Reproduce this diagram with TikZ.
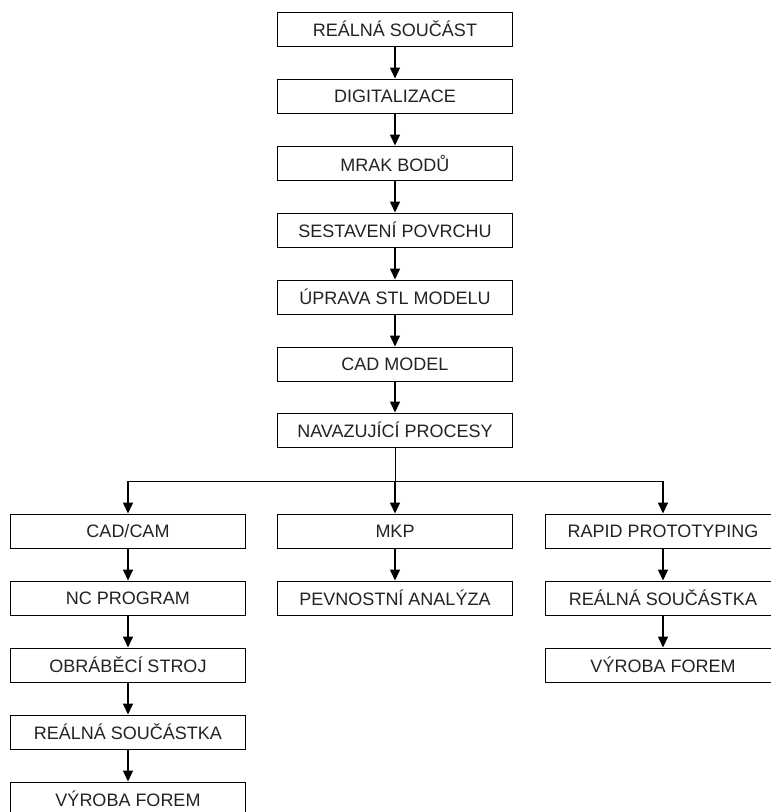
\documentclass[tikz,border=0pt]{standalone}
\usepackage{fontspec}
\setmainfont{Liberation Sans}
\usepackage{xcolor}
\usepackage{tikz}
\usetikzlibrary{arrows.meta, calc}

\definecolor{textgray}{HTML}{222222}

\tikzset{
  box/.style={draw, line width=1pt, minimum width=235pt, minimum height=34pt,
    inner sep=0pt, text=textgray, font=\fontsize{18}{20}\selectfont},
  flow/.style={line width=1.6pt, -{Triangle[length=11pt,width=10pt]}},
}

\begin{document}
\begin{tikzpicture}[x=1pt, y=-1pt]
\useasboundingbox (0,0) rectangle (771,812);

% Main chain
\node[box] (real)  at (395,29)  {REÁLNÁ SOUČÁST};
\node[box] (digi)  at (395,96)  {DIGITALIZACE};
\node[box] (mrak)  at (395,163) {MRAK BODŮ};
\node[box] (sest)  at (395,230) {SESTAVENÍ POVRCHU};
\node[box] (stl)   at (395,297) {ÚPRAVA STL MODELU};
\node[box] (cad)   at (395,364) {CAD MODEL};
\node[box] (nav)   at (395,430) {NAVAZUJÍCÍ PROCESY};

\draw[flow] (real) -- (digi);
\draw[flow] (digi) -- (mrak);
\draw[flow] (mrak) -- (sest);
\draw[flow] (sest) -- (stl);
\draw[flow] (stl) -- (cad);
\draw[flow] (cad) -- (nav);

% Branches
\node[box] (cam)   at (128,531) {CAD/CAM};
\node[box] (nc)    at (128,598) {NC PROGRAM};
\node[box] (obr)   at (128,665) {OBRÁBĚCÍ STROJ};
\node[box] (sou1)  at (128,732) {REÁLNÁ SOUČÁSTKA};
\node[box] (form1) at (128,799) {VÝROBA FOREM};

\node[box] (mkp)   at (395,531) {MKP};
\node[box] (pev)   at (395,598) {PEVNOSTNÍ ANALÝZA};

\node[box] (rp)    at (663,531) {RAPID PROTOTYPING};
\node[box] (sou2)  at (663,598) {REÁLNÁ SOUČÁSTKA};
\node[box] (form2) at (663,665) {VÝROBA FOREM};

\coordinate (split) at (395,481);
\coordinate (splitL) at (128,481);
\coordinate (splitR) at (663,481);

\draw[line width=1pt] (nav) -- (split);
\draw[line width=1pt] (splitL) -- (splitR);
\draw[flow] (splitL) -- (cam);
\draw[flow] (split) -- (mkp);
\draw[flow] (splitR) -- (rp);

\draw[flow] (cam) -- (nc);
\draw[flow] (nc) -- (obr);
\draw[flow] (obr) -- (sou1);
\draw[flow] (sou1) -- (form1);
\draw[flow] (mkp) -- (pev);
\draw[flow] (rp) -- (sou2);
\draw[flow] (sou2) -- (form2);
\end{tikzpicture}
\end{document}
